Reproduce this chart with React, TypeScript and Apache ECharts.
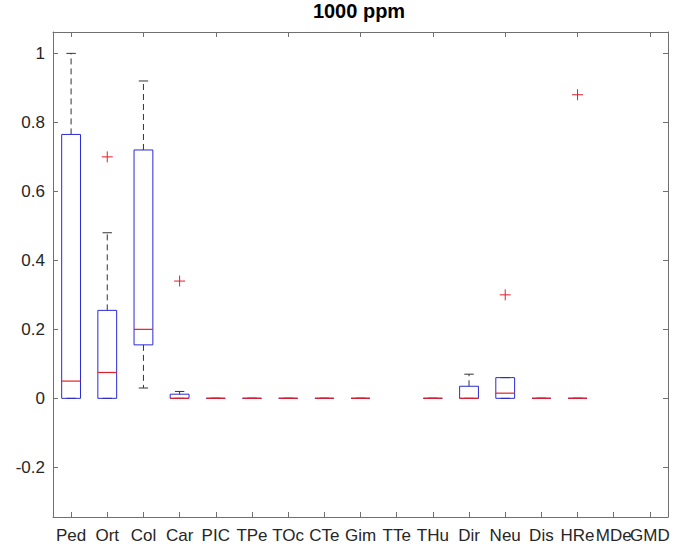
import React, { useEffect, useRef } from "react";
import * as echarts from "echarts";

const categories = ["Ped", "Ort", "Col", "Car", "PIC", "TPe", "TOc", "CTe", "Gim", "TTe", "THu", "Dir", "Neu", "Dis", "HRe", "MDe", "GMD"];
const whiskerLow = [0, 0, 0.03, 0, 0, 0, 0, 0, 0, null, 0, 0, 0, 0, 0, null, null];
const quartile1 = [0, 0, 0.155, 0, 0, 0, 0, 0, 0, null, 0, 0, 0, 0, 0, null, null];
const medians = [0.05, 0.075, 0.2, 0, 0, 0, 0, 0, 0, null, 0, 0, 0.015, 0, 0, null, null];
const quartile3 = [0.765, 0.255, 0.72, 0.012, 0, 0, 0, 0, 0, null, 0, 0.035, 0.06, 0, 0, null, null];
const whiskerHigh = [1.0, 0.48, 0.92, 0.02, 0, 0, 0, 0, 0, null, 0, 0.07, 0.06, 0, 0, null, null];
const outlierCategories = ["Ort", "Car", "Neu", "HRe"];
const outlierValues = [0.7, 0.34, 0.3, 0.88];
const yTicks = [-0.2, 0, 0.2, 0.4, 0.6, 0.8, 1];

const BLUE = "#2a2ad8";
const RED = "#e0202a";
const WHISKER = "#333333";
const AXIS = "#707070";
const TEXT = "#262626";
const FONT = "'Liberation Sans', Arial, sans-serif";

export default function App() {
  const ref = useRef<HTMLDivElement>(null);
  useEffect(() => {
    if (!ref.current) return;
    const chart = echarts.init(ref.current, null, { renderer: "svg" });
    const boxData: any[] = [];
    categories.forEach((c, i) => {
      if (medians[i] === null) return;
      boxData.push([i, whiskerLow[i], quartile1[i], medians[i], quartile3[i], whiskerHigh[i]]);
    });
    const outData = outlierCategories.map((c, i) => [categories.indexOf(c), outlierValues[i]]);

    const renderBox = (params: any, api: any) => {
      const x = api.value(0);
      const lo = api.coord([x, api.value(1)]);
      const q1 = api.coord([x, api.value(2)]);
      const md = api.coord([x, api.value(3)]);
      const q3 = api.coord([x, api.value(4)]);
      const hi = api.coord([x, api.value(5)]);
      const bw = api.size([1, 0])[0] * 0.52;
      const cx = lo[0];
      const children: any[] = [];
      const dash = { stroke: WHISKER, lineWidth: 1, lineDash: [6, 4] };
      if (Math.abs(q3[1] - hi[1]) > 0.5) {
        children.push({ type: "line", shape: { x1: cx, y1: q3[1], x2: cx, y2: hi[1] }, style: dash });
      }
      if (Math.abs(q1[1] - lo[1]) > 0.5) {
        children.push({ type: "line", shape: { x1: cx, y1: q1[1], x2: cx, y2: lo[1] }, style: dash });
      }
      children.push({ type: "line", shape: { x1: cx - bw / 4, y1: hi[1], x2: cx + bw / 4, y2: hi[1] }, style: { stroke: WHISKER, lineWidth: 1 } });
      children.push({ type: "line", shape: { x1: cx - bw / 4, y1: lo[1], x2: cx + bw / 4, y2: lo[1] }, style: { stroke: WHISKER, lineWidth: 1 } });
      children.push({
        type: "rect",
        shape: { x: cx - bw / 2, y: q3[1], width: bw, height: q1[1] - q3[1] },
        style: { stroke: BLUE, fill: "none", lineWidth: 1 },
      });
      children.push({ type: "line", shape: { x1: cx - bw / 2, y1: md[1], x2: cx + bw / 2, y2: md[1] }, style: { stroke: RED, lineWidth: 1.2 } });
      return { type: "group", children };
    };

    const renderOutlier = (params: any, api: any) => {
      const p = api.coord([api.value(0), api.value(1)]);
      const h = 5.5;
      return {
        type: "group",
        children: [
          { type: "line", shape: { x1: p[0] - h, y1: p[1], x2: p[0] + h, y2: p[1] }, style: { stroke: RED, lineWidth: 1 } },
          { type: "line", shape: { x1: p[0], y1: p[1] - h, x2: p[0], y2: p[1] + h }, style: { stroke: RED, lineWidth: 1 } },
        ],
      };
    };

    const yMin = -0.344;
    const yMax = 1.062;

    chart.setOption({
      animation: false,
      backgroundColor: "#ffffff",
      title: {
        text: "1000 ppm",
        left: 359,
        textAlign: "center",
        top: 1,
        padding: 0,
        textStyle: { fontFamily: FONT, fontSize: 20, fontWeight: "bold", color: "#000" },
      },
      grid: { left: 53, right: 6, top: 32, bottom: 33 },
      xAxis: [
        {
          type: "category",
          data: categories,
          position: "bottom",
          axisLine: { show: true, onZero: false, lineStyle: { color: AXIS, width: 1 } },
          axisTick: { show: true, inside: true, alignWithLabel: true, length: 5, lineStyle: { color: AXIS } },
          axisLabel: { color: TEXT, fontFamily: FONT, fontSize: 17, margin: 10, interval: 0 },
          splitLine: { show: false },
        },
        {
          type: "category",
          data: categories,
          position: "top",
          axisLine: { show: true, onZero: false, lineStyle: { color: AXIS, width: 1 } },
          axisTick: { show: true, inside: true, alignWithLabel: true, length: 5, lineStyle: { color: AXIS } },
          axisLabel: { show: false },
          splitLine: { show: false },
        },
      ],
      yAxis: [
        {
          type: "value",
          min: yMin,
          max: yMax,
          position: "left",
          axisLine: { show: true, onZero: false, lineStyle: { color: AXIS, width: 1 } },
          axisTick: { show: true, inside: true, length: 5, customValues: yTicks, lineStyle: { color: AXIS } },
          axisLabel: { color: TEXT, fontFamily: FONT, fontSize: 17, margin: 8, customValues: yTicks },
          splitLine: { show: false },
        },
        {
          type: "value",
          min: yMin,
          max: yMax,
          position: "right",
          axisLine: { show: true, onZero: false, lineStyle: { color: AXIS, width: 1 } },
          axisTick: { show: true, inside: true, length: 5, customValues: yTicks, lineStyle: { color: AXIS } },
          axisLabel: { show: false },
          splitLine: { show: false },
        },
      ],
      series: [
        {
          type: "custom",
          xAxisIndex: 0,
          yAxisIndex: 0,
          renderItem: renderBox,
          data: boxData,
          encode: { x: 0, y: [1, 2, 3, 4, 5] },
          silent: true,
        },
        {
          type: "custom",
          xAxisIndex: 0,
          yAxisIndex: 0,
          renderItem: renderOutlier,
          data: outData,
          encode: { x: 0, y: 1 },
          silent: true,
        },
      ],
    });
    return () => chart.dispose();
  }, []);
  return <div ref={ref} style={{ width: 674, height: 550, position: "absolute", left: 0, top: 0 }} />;
}
